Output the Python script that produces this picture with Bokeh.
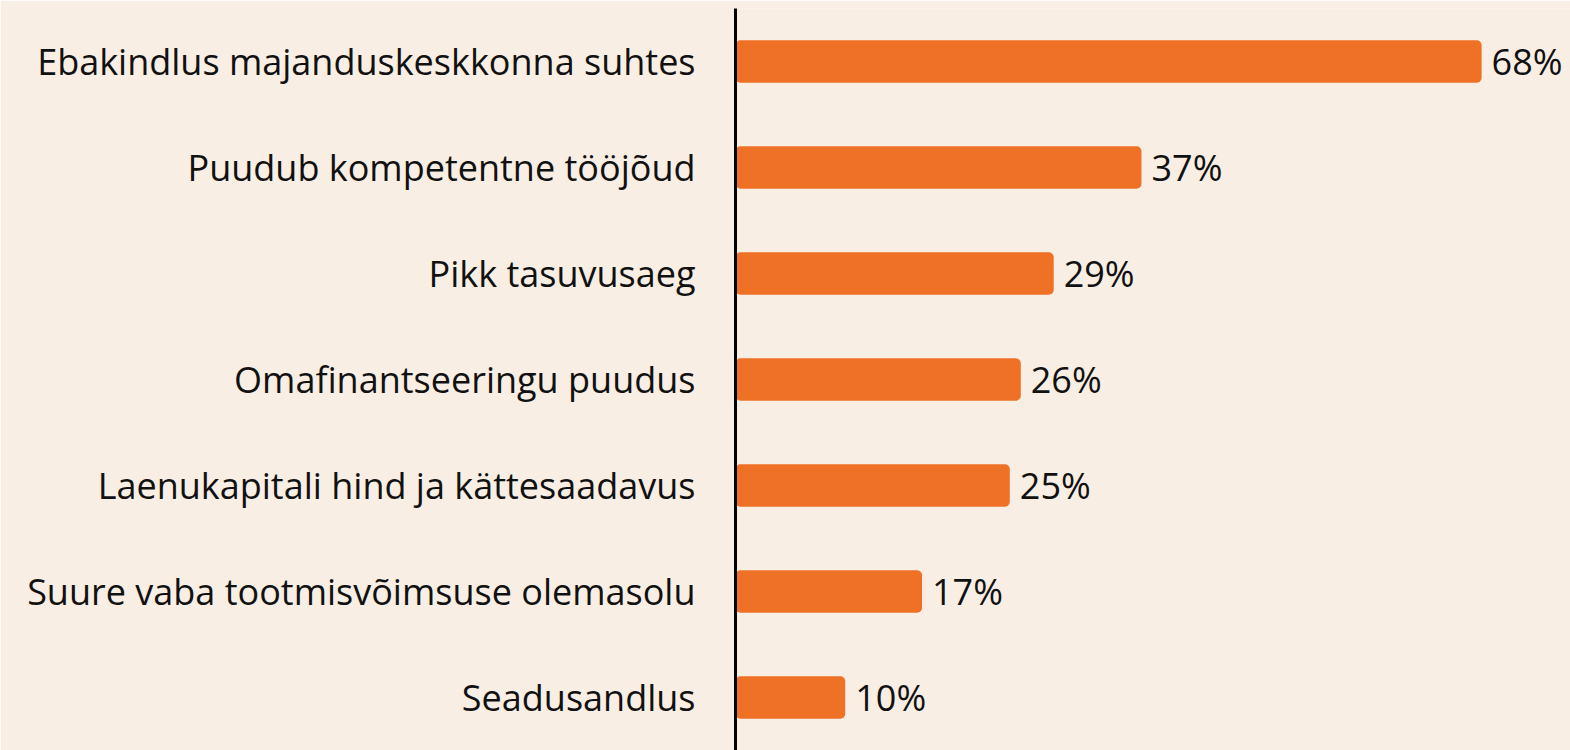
from bokeh.plotting import figure
from bokeh.models import Range1d, FactorRange, ColumnDataSource
from bokeh.core.properties import value
from bokeh.embed import file_html
from bokeh.resources import INLINE

categories = [
    "Ebakindlus majanduskeskkonna suhtes",
    "Puudub kompetentne tööjõud",
    "Pikk tasuvusaeg",
    "Omafinantseeringu puudus",
    "Laenukapitali hind ja kättesaadavus",
    "Suure vaba tootmisvõimsuse olemasolu",
    "Seadusandlus",
]
values = [68, 37, 29, 26, 25, 17, 10]
labels = [f"{v}%" for v in values]

BG = "#F9EEE4"
BAR = "#EE7125"
FONT = "Open Sans"

src = ColumnDataSource(dict(cat=categories, val=values, lab=labels))

p = figure(
    width=1570, height=750,
    y_range=FactorRange(*reversed(categories)),
    x_range=Range1d(0, 76.1),
    output_backend="svg", toolbar_location=None,
    min_border_left=735, min_border_right=0, min_border_top=8, min_border_bottom=0,
    background_fill_color=BG, border_fill_color=BG, outline_line_color=None,
)
p.hbar(y="cat", right="val", left=0, height=0.4, source=src,
       fill_color=BAR, line_color=None, border_radius=5)
p.text(x="val", y="cat", text="lab", source=src, x_offset=10,
       text_baseline="middle", text_align="left",
       text_font=value(FONT), text_font_size="36px", text_color="#111111")

p.xaxis.visible = False
p.xgrid.visible = False
p.ygrid.visible = False
yax = p.yaxis[0]
yax.axis_line_color = "black"
yax.axis_line_width = 3
yax.major_tick_line_color = None
yax.minor_tick_line_color = None
yax.major_tick_out = 0
yax.major_tick_in = 0
yax.major_label_standoff = 40
yax.major_label_text_font = FONT
yax.major_label_text_font_size = "36px"
yax.major_label_text_color = "#111111"

open("out.html", "w").write(file_html(p, INLINE))
